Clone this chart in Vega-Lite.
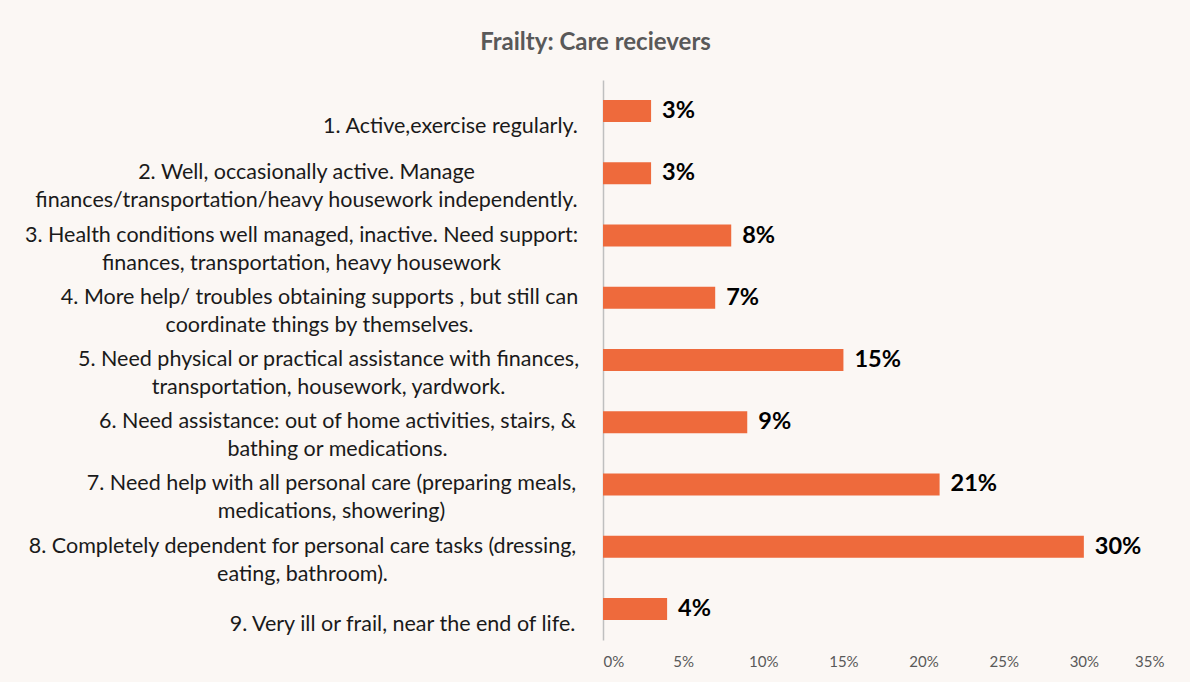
{
  "$schema": "https://vega.github.io/schema/vega-lite/v6.json",
  "width": 561,
  "height": 560,
  "autosize": {"type": "none"},
  "padding": {"left": 603, "top": 80, "right": 26, "bottom": 42},
  "background": "#FBF7F4",
  "title": {
    "text": "Frailty: Care recievers",
    "anchor": "middle",
    "frame": "group",
    "dx": -288,
    "offset": 25,
    "font": "Lato",
    "fontSize": 24,
    "fontWeight": "bold",
    "color": "#595959"
  },
  "data": {
    "values": [
      {"item": "1. Active,exercise regularly.", "pct": 0.03},
      {"item": "2. Well, occasionally active. Manage\nfinances/transportation/heavy housework independently.", "pct": 0.03},
      {"item": "3. Health conditions well managed, inactive. Need support:\nfinances, transportation, heavy housework", "pct": 0.08},
      {"item": "4. More help/ troubles obtaining supports , but still can\ncoordinate things by themselves.", "pct": 0.07},
      {"item": "5. Need physical or practical assistance with finances,\ntransportation, housework, yardwork.", "pct": 0.15},
      {"item": "6. Need assistance: out of home activities,  stairs, &\nbathing or medications.", "pct": 0.09},
      {"item": "7. Need help with all personal care (preparing meals,\nmedications, showering)", "pct": 0.21},
      {"item": "8. Completely dependent for personal care tasks (dressing,\neating, bathroom).", "pct": 0.30},
      {"item": "9.  Very ill or frail, near the end of life.", "pct": 0.04}
    ]
  },
  "encoding": {
    "y": {
      "field": "item",
      "type": "nominal",
      "sort": null,
      "title": null,
      "axis": {
        "labelExpr": "split(datum.label, '\\n')",
        "labelAlign": "center",
        "labelBaseline": "middle",
        "labelPadding": {
          "condition": [
            {"test": "substring(datum.value, 0, 1) === '1'", "value": 153},
            {"test": "substring(datum.value, 0, 1) === '2'", "value": 297},
            {"test": "substring(datum.value, 0, 1) === '3'", "value": 302},
            {"test": "substring(datum.value, 0, 1) === '4'", "value": 284},
            {"test": "substring(datum.value, 0, 1) === '5'", "value": 275},
            {"test": "substring(datum.value, 0, 1) === '6'", "value": 266},
            {"test": "substring(datum.value, 0, 1) === '7'", "value": 272},
            {"test": "substring(datum.value, 0, 1) === '8'", "value": 301}
          ],
          "value": 201
        },
        "labelOffset": {
          "condition": {"test": "indexof(datum.value, '\\n') < 0", "value": 16},
          "value": 0
        },
        "labelFont": "Lato",
        "labelFontSize": 21.5,
        "labelColor": "#1a1a1a",
        "labelLineHeight": 28,
        "labelLimit": 0,
        "ticks": false,
        "domain": true,
        "domainColor": "#BFBFBF",
        "domainWidth": 1.5
      }
    },
    "x": {
      "field": "pct",
      "type": "quantitative",
      "scale": {"domain": [0, 0.35]},
      "title": null,
      "axis": {
        "format": ".0%",
        "values": [0, 0.05, 0.1, 0.15, 0.2, 0.25, 0.3, 0.35],
        "grid": false,
        "ticks": false,
        "domain": false,
        "labelColor": "#595959",
        "labelFont": "Lato",
        "labelFontSize": 15,
        "labelPadding": 14
      }
    }
  },
  "layer": [
    {"mark": {"type": "bar", "color": "#EE6A3C", "size": 22}},
    {
      "mark": {"type": "text", "align": "left", "baseline": "middle", "dx": 11, "font": "Lato", "fontSize": 23.5, "fontWeight": "bold", "color": "#000000"},
      "encoding": {"text": {"field": "pct", "type": "quantitative", "format": ".0%"}}
    }
  ],
  "config": {"view": {"stroke": null}}
}
